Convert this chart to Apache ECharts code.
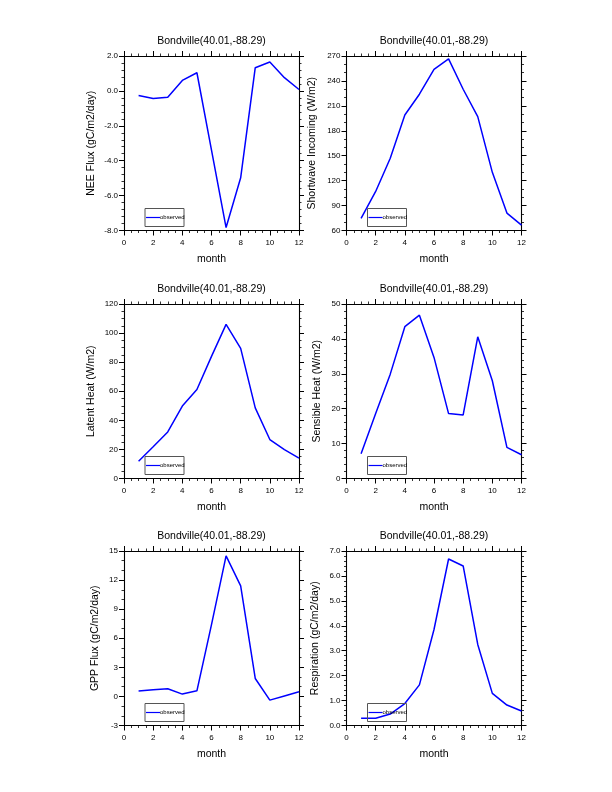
<!DOCTYPE html>
<html>
<head>
<meta charset="utf-8">
<script src="https://cdn.jsdelivr.net/npm/echarts@6/dist/echarts.min.js"></script>
<style>
  html, body { margin: 0; padding: 0; background: #fff; }
  #main { width: 612px; height: 792px; }
</style>
</head>
<body>
<div id="main"></div>
<script>
// monthly means, Bondville site
var months = [1, 2, 3, 4, 5, 6, 7, 8, 9, 10, 11, 12];
var neeFlux = [-0.26, -0.43, -0.36, 0.6, 1.04, -3.4, -7.83, -4.98, 1.33, 1.66, 0.76, 0.08];
var shortwave = [74.5, 107, 147, 199, 224, 254, 266.5, 230, 197, 130, 81, 66.5];
var latentHeat = [11.9, 21.8, 32, 49.8, 61.2, 84, 106, 89.5, 48.6, 26.8, 19.8, 14];
var sensibleHeat = [7.1, 18.6, 29.9, 43.5, 46.8, 34.7, 18.6, 18.2, 40.6, 28, 8.9, 6.8];
var gppFlux = [0.55, 0.68, 0.79, 0.24, 0.58, 7.4, 14.5, 11.4, 1.85, -0.38, 0.05, 0.48];
var respiration = [0.29, 0.29, 0.46, 0.88, 1.63, 3.85, 6.68, 6.4, 3.25, 1.29, 0.82, 0.58];

var siteTitle = 'Bondville(40.01,-88.29)';
var legendText = 'observed';
var xName = 'month';

// panel setup: [data, y name, min, max, interval, minor splits, decimals, nameGap]
var panels = [
  [neeFlux, 'NEE Flux (gC/m2/day)', -8, 2, 2, 5, 1, 27],
  [shortwave, 'Shortwave Incoming (W/m2)', 60, 270, 30, 3, 0, 29],
  [latentHeat, 'Latent Heat (W/m2)', 0, 120, 20, 4, 0, 27],
  [sensibleHeat, 'Sensible Heat (W/m2)', 0, 50, 10, 5, 0, 24],
  [gppFlux, 'GPP Flux (gC/m2/day)', -3, 15, 3, 3, 0, 23],
  [respiration, 'Respiration (gC/m2/day)', 0, 7, 1, 5, 1, 26]
];

var colLeft = [124, 346.5];
var rowTop = [56, 304, 551];
var W = 175, H = 174.5;
var FONT = 'Liberation Sans';

var grids = [], xAxes = [], yAxes = [], series = [], graphics = [];

function tickStyle() {
  return {
    axisLine: { show: true, onZero: false, lineStyle: { color: '#000', width: 1.1 } },
    axisTick: { show: true, inside: false, length: 5, lineStyle: { color: '#000', width: 1 } },
    minorTick: { show: true, length: 2.5, lineStyle: { color: '#000', width: 0.8 } },
    splitLine: { show: false },
    minorSplitLine: { show: false }
  };
}

panels.forEach(function (p, i) {
  var left = colLeft[i % 2];
  var top = rowTop[Math.floor(i / 2)];
  grids.push({ left: left, top: top, width: W, height: H, containLabel: false });

  var xb = Object.assign({
    gridIndex: i, type: 'value', min: 0, max: 12, interval: 2, position: 'bottom',
    name: xName, nameLocation: 'middle', nameGap: 23,
    nameTextStyle: { fontFamily: FONT, fontSize: 10.5, color: '#000' },
    axisLabel: { fontFamily: FONT, fontSize: 8, color: '#000', margin: 8 }
  }, tickStyle());
  xb.minorTick.splitNumber = 4;
  var xt = Object.assign({
    gridIndex: i, type: 'value', min: 0, max: 12, interval: 2, position: 'top',
    axisLabel: { show: false }
  }, tickStyle());
  xt.minorTick.splitNumber = 4;
  xAxes.push(xb, xt);

  var dec = p[6];
  var yl = Object.assign({
    gridIndex: i, type: 'value', min: p[2], max: p[3], interval: p[4], position: 'left',
    name: p[1], nameLocation: 'middle', nameGap: p[7], nameRotate: 90,
    nameTextStyle: { fontFamily: FONT, fontSize: 10.5, color: '#000' },
    axisLabel: {
      fontFamily: FONT, fontSize: 8, color: '#000', margin: 6,
      formatter: function (v) { return v.toFixed(dec); }
    }
  }, tickStyle());
  yl.minorTick.splitNumber = p[5];
  var yr = Object.assign({
    gridIndex: i, type: 'value', min: p[2], max: p[3], interval: p[4], position: 'right',
    axisLabel: { show: false }
  }, tickStyle());
  yr.minorTick.splitNumber = p[5];
  yAxes.push(yl, yr);

  series.push({
    type: 'line', xAxisIndex: i * 2, yAxisIndex: i * 2,
    data: months.map(function (m, k) { return [m, p[0][k]]; }),
    showSymbol: false, symbol: 'none', smooth: false,
    lineStyle: { color: '#0000ff', width: 1.5 }, z: 3
  });

  // title
  graphics.push({
    type: 'text', x: left + W / 2, y: top - 15,
    style: { text: siteTitle, fontFamily: FONT, fontSize: 10.5, fill: '#000', align: 'center', verticalAlign: 'middle' }
  });
  // legend box
  var bx = left + 21, by = top + H - 22;
  graphics.push({
    type: 'rect', shape: { x: bx, y: by, width: 39, height: 18 },
    style: { fill: 'none', stroke: '#555', lineWidth: 1 }, z: 10
  });
  graphics.push({
    type: 'line', shape: { x1: bx + 1, y1: by + 9, x2: bx + 15, y2: by + 9 },
    style: { stroke: '#0000ff', lineWidth: 1.2 }, z: 10
  });
  graphics.push({
    type: 'text', x: bx + 15, y: by + 9,
    style: { text: legendText, fontFamily: FONT, fontSize: 6, fill: '#000', align: 'left', verticalAlign: 'middle' }, z: 10
  });
});

var chart = echarts.init(document.getElementById('main'), null, { renderer: 'canvas' });
chart.setOption({
  backgroundColor: '#fff',
  animation: false,
  grid: grids,
  xAxis: xAxes,
  yAxis: yAxes,
  series: series,
  graphic: graphics
});
</script>
</body>
</html>
